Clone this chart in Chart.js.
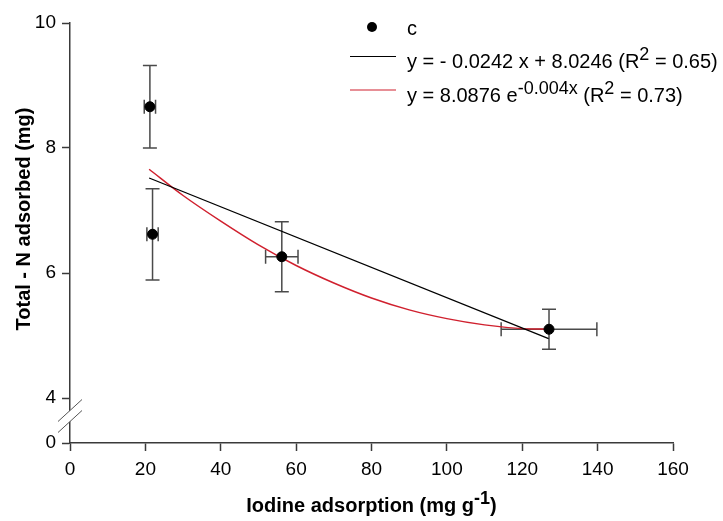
<!DOCTYPE html>
<html>
<head>
<meta charset="utf-8">
<script src="https://cdn.jsdelivr.net/npm/chart.js@4"></script>
<style>
  body { margin: 0; background: #fff; }
  #wrap { width: 723px; height: 521px; }
</style>
</head>
<body>
<div id="wrap"><canvas id="myChart" width="723" height="521"></canvas></div>
<script>
// measured points (iodine adsorption vs total N adsorbed) with standard errors
const iodine = [21.2, 21.9, 56.2, 127.1];
const iodineErr = [1.5, 1.5, 4.3, 12.7];
const totalN = [8.66, 6.62, 6.26, 5.10];
const totalNErr = [0.66, 0.73, 0.56, 0.32];

// linear fit, end points
const linearX = [21, 127];
const linearY = [7.52, 4.95];

// fitted curve, read along its length
const curveX = [21, 30, 40, 50, 60, 70, 80, 90, 100, 110, 120, 127];
const curveY = [7.66, 7.24, 6.83, 6.45, 6.12, 5.84, 5.60, 5.41, 5.27, 5.17, 5.11, 5.10];

const xTicks = [0, 20, 40, 60, 80, 100, 120, 140, 160];
const yTicks = [0, 4, 6, 8, 10];
// the axis is broken below 4, the "0" tick sits at this position
const yZeroPos = 3.28;

const legendRows = [
    { type: 'point', parts: [{ t: 'c' }] },
    { type: 'line', color: '#000000', parts: [{ t: 'y = - 0.0242 x + 8.0246 (R' }, { t: '2', sup: true }, { t: ' = 0.65)' }] },
    { type: 'line', color: '#d0202e', parts: [{ t: 'y = 8.0876 e' }, { t: '-0.004x', sup: true }, { t: ' (R' }, { t: '2', sup: true }, { t: ' = 0.73)' }] }
];

const FONT = '"Liberation Sans", Arial, sans-serif';
const AXIS_COLOR = '#3a3a3a';

function drawRich(c, x, y, parts, size, weight) {
    let cx = x;
    parts.forEach(function (p) {
        let fs = p.sup ? Math.round(size * 0.9) : size;
        c.font = `${weight} ${fs}px ${FONT}`;
        c.fillText(p.t, cx, p.sup ? y - 8 : y);
        cx += c.measureText(p.t).width;
    });
    return cx - x;
}

function richWidth(c, parts, size, weight) {
    let w = 0;
    parts.forEach(function (p) {
        let fs = p.sup ? Math.round(size * 0.9) : size;
        c.font = `${weight} ${fs}px ${FONT}`;
        w += c.measureText(p.t).width;
    });
    return w;
}

const errorBars = {
    id: 'errorBars',
    beforeDatasetsDraw(chart) {
        let c = chart.ctx;
        let xs = chart.scales.x, ys = chart.scales.y;
        let cap = 7;
        c.save();
        c.strokeStyle = '#4a4a4a';
        c.lineWidth = 1.5;
        iodine.forEach(function (xv, i) {
            let px = xs.getPixelForValue(xv);
            let py = ys.getPixelForValue(totalN[i]);
            let y1 = ys.getPixelForValue(totalN[i] + totalNErr[i]);
            let y2 = ys.getPixelForValue(totalN[i] - totalNErr[i]);
            let x1 = xs.getPixelForValue(xv - iodineErr[i]);
            let x2 = xs.getPixelForValue(xv + iodineErr[i]);
            c.beginPath();
            c.moveTo(px, y1); c.lineTo(px, y2);
            c.moveTo(px - cap, y1); c.lineTo(px + cap, y1);
            c.moveTo(px - cap, y2); c.lineTo(px + cap, y2);
            c.moveTo(x1, py); c.lineTo(x2, py);
            c.moveTo(x1, py - cap); c.lineTo(x1, py + cap);
            c.moveTo(x2, py - cap); c.lineTo(x2, py + cap);
            c.stroke();
        });
        c.restore();
    }
};

const decorations = {
    id: 'decorations',
    afterDraw(chart) {
        let c = chart.ctx;
        let area = chart.chartArea;
        let ys = chart.scales.y;
        c.save();

        // axis break marks on the y axis
        let p4 = ys.getPixelForValue(4);
        let mid = p4 + (area.bottom - p4) * 0.4;
        let ax = area.left;
        let dx = 12, dy = 11, gap = 5.5;
        c.fillStyle = '#ffffff';
        c.beginPath();
        c.moveTo(ax + dx, mid - dy - gap);
        c.lineTo(ax - dx, mid + dy - gap);
        c.lineTo(ax - dx, mid + dy + gap);
        c.lineTo(ax + dx, mid - dy + gap);
        c.closePath();
        c.fill();
        c.strokeStyle = '#555555';
        c.lineWidth = 1;
        c.beginPath();
        c.moveTo(ax + dx, mid - dy - gap); c.lineTo(ax - dx, mid + dy - gap);
        c.moveTo(ax + dx, mid - dy + gap); c.lineTo(ax - dx, mid + dy + gap);
        c.stroke();

        // axis titles
        c.fillStyle = '#000000';
        c.textBaseline = 'alphabetic';
        let xParts = [{ t: 'Iodine adsorption (mg g' }, { t: '-1', sup: true }, { t: ')' }];
        let w = richWidth(c, xParts, 20, 'bold');
        drawRich(c, (area.left + area.right) / 2 - w / 2, 512, xParts, 20, 'bold');

        c.save();
        c.translate(29.5, (area.top + area.bottom) / 2 - 14);
        c.rotate(-Math.PI / 2);
        c.font = `bold 20px ${FONT}`;
        c.textAlign = 'center';
        c.fillText('Total - N adsorbed (mg)', 0, 0);
        c.restore();

        // legend
        let lx = 350, tx = 407;
        let rowY = [35, 68, 101.5];
        legendRows.forEach(function (row, i) {
            let by = rowY[i];
            if (row.type === 'point') {
                c.fillStyle = '#000000';
                c.beginPath();
                c.arc(372, by - 8, 5, 0, Math.PI * 2);
                c.fill();
            } else {
                c.strokeStyle = row.color;
                c.lineWidth = 1.2;
                c.beginPath();
                c.moveTo(lx, by - 11.5);
                c.lineTo(lx + 46, by - 11.5);
                c.stroke();
            }
            c.fillStyle = '#000000';
            drawRich(c, tx, by, row.parts, 20, 'normal');
        });
        c.restore();
    }
};

const ctx = document.getElementById('myChart');
const chart = new Chart(ctx, {
    type: 'scatter',
    data: {
        datasets: [
            {
                label: 'c',
                data: iodine.map((x, i) => ({ x: x, y: totalN[i] })),
                backgroundColor: '#000000',
                borderColor: '#000000',
                pointRadius: 5,
                order: 0
            },
            {
                label: 'linear',
                type: 'line',
                data: linearX.map((x, i) => ({ x: x, y: linearY[i] })),
                borderColor: '#000000',
                borderWidth: 1.3,
                pointRadius: 0,
                fill: false,
                order: 1
            },
            {
                label: 'curve',
                type: 'line',
                data: curveX.map((x, i) => ({ x: x, y: curveY[i] })),
                borderColor: '#d0202e',
                borderWidth: 1.5,
                pointRadius: 0,
                cubicInterpolationMode: 'monotone',
                fill: false,
                order: 2
            }
        ]
    },
    options: {
        responsive: false,
        animation: false,
        layout: { padding: { top: 23, right: 50, left: 0, bottom: 0 } },
        plugins: {
            legend: { display: false },
            tooltip: { enabled: false }
        },
        scales: {
            x: {
                type: 'linear',
                min: 0,
                max: 160,
                afterBuildTicks: (scale) => { scale.ticks = xTicks.map(v => ({ value: v })); },
                afterFit: (scale) => { scale.height = 78; },
                ticks: { font: { family: FONT, size: 19 }, color: '#000000', padding: 7 },
                grid: { drawOnChartArea: false, tickLength: 8, color: AXIS_COLOR, tickWidth: 1.5 },
                border: { color: AXIS_COLOR, width: 1.5 }
            },
            y: {
                min: yZeroPos,
                max: 10,
                afterBuildTicks: (scale) => { scale.ticks = yTicks.map(v => ({ value: v === 0 ? yZeroPos : v })); },
                afterFit: (scale) => { scale.width = 70; },
                ticks: {
                    font: { family: FONT, size: 19 },
                    color: '#000000',
                    padding: 6,
                    callback: (value) => value === yZeroPos ? '0' : value
                },
                grid: { drawOnChartArea: false, tickLength: 8, color: AXIS_COLOR, tickWidth: 1.5 },
                border: { color: AXIS_COLOR, width: 1.5 }
            }
        }
    },
    plugins: [errorBars, decorations]
});
</script>
</body>
</html>
